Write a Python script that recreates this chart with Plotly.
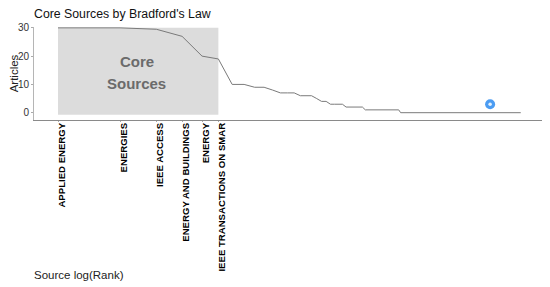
import plotly.graph_objects as go

TITLE = "Core Sources by Bradford's Law"
X_TITLE = "Source log(Rank)"
Y_TITLE = "Articles"
CORE_WORDS = ["Core", "Sources"]

ranks = [1, 2, 3, 4, 5, 6, 7, 8, 9, 10, 11, 12, 13, 14, 15, 16, 17, 18, 19, 20, 21, 22, 23, 24,
         25, 26, 27, 28, 29, 30, 31, 35, 40, 45, 46, 176]
articles = [30, 30, 29.5, 27, 20, 19, 10, 10, 9, 9, 8, 7, 7, 7, 6, 6, 6, 5, 4, 4, 3, 3, 3, 3,
            2, 2, 2, 2, 2, 2, 1, 1, 1, 1, 0, 0]
core_labels = ["APPLIED ENERGY", "ENERGIES", "IEEE ACCESS", "ENERGY AND BUILDINGS", "ENERGY",
               "IEEE TRANSACTIONS ON SMAR"]
core_ranks = [1, 2, 3, 4, 5, 6]
y_ticks = [0, 10, 20, 30]
icon_rank = [125]
icon_value = [3]

FONT = "Liberation Sans, Arial, sans-serif"

fig = go.Figure()
fig.add_trace(go.Scatter(x=ranks, y=articles, mode="lines", showlegend=False, hoverinfo="skip",
                         line=dict(color="#7a7a7a", width=1)))
fig.add_trace(go.Scatter(x=icon_rank, y=icon_value, mode="markers", showlegend=False, hoverinfo="skip",
                         marker=dict(size=10, color="#4b9cf2", line=dict(width=0))))
fig.add_trace(go.Scatter(x=icon_rank, y=icon_value, mode="markers", showlegend=False, hoverinfo="skip",
                         marker=dict(size=3.5, color="#e4f1fd", line=dict(width=0))))

fig.add_shape(type="rect", xref="x", yref="y", x0=core_ranks[0], x1=core_ranks[-1], y0=-0.7, y1=30,
              fillcolor="#dcdcdc", line=dict(width=0), layer="below")

for word, yv in zip(CORE_WORDS, [18, 10.5]):
    fig.add_annotation(x=0.383, y=yv, xref="x", yref="y", text=f"<b>{word}</b>", showarrow=False,
                       font=dict(family=FONT, size=15, color="#6b6b6b"))

fig.add_annotation(x=0, y=-155 / 93, xref="paper", yref="paper", xanchor="left", yanchor="middle", xshift=-2,
                   text=X_TITLE, showarrow=False, font=dict(family=FONT, size=11.5, color="#222222"))

fig.update_layout(
    width=542, height=279,
    margin=dict(l=26, r=7, t=19, b=167, autoexpand=False),
    paper_bgcolor="white", plot_bgcolor="white",
    title=dict(text=TITLE, x=26 / 542, xanchor="left", y=1 - 6 / 279, yanchor="middle",
               font=dict(family=FONT, size=12.3, color="#111111")),
    showlegend=False,
    xaxis=dict(type="log", range=[-0.1165, 2.3535], showgrid=False, zeroline=False,
               showline=True, linecolor="#8a8a8a", linewidth=1,
               tickmode="array", tickvals=core_ranks, ticktext=core_labels, tickangle=-90,
               ticks="outside", ticklen=1, tickcolor="#aaaaaa", tickwidth=1,
               ticklabelshift=4, ticklabelstandoff=-3,
               tickfont=dict(family=FONT, size=9.6, color="#000000", weight="bold")),
    yaxis=dict(range=[-2.58, 30.3], showgrid=False, zeroline=False,
               showline=True, linecolor="#b5b5b5", linewidth=1,
               tickmode="array", tickvals=y_ticks, ticks="outside", ticklen=2,
               tickcolor="#aaaaaa", tickfont=dict(family=FONT, size=10, color="#333333"),
               title=dict(text=Y_TITLE, standoff=3, font=dict(family=FONT, size=11.5, color="#222222"))),
)

fig.write_html("out.html")
